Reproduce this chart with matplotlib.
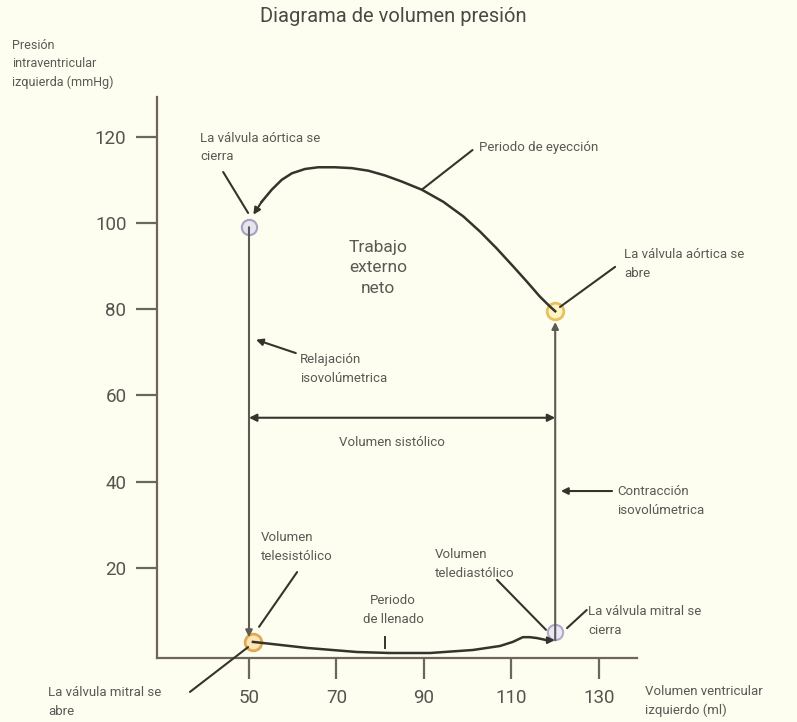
import matplotlib.pyplot as plt

plt.rcParams['font.family'] = ['Roboto', 'DejaVu Sans']

# datos
x_ticks = [50, 70, 90, 110, 130]
y_ticks = [20, 40, 60, 80, 100, 120]

# periodo de eyección (de la apertura al cierre de la válvula aórtica)
eyec_vol = [120, 118.8, 116.5, 113.5, 110.4, 106.6, 102.8, 99.0, 94.4, 89.5, 84.9, 81.1,
            77.3, 73.5, 69.7, 65.8, 62.8, 59.8, 57.5, 55.2, 52.9, 51.0]
eyec_pres = [79.5, 80.6, 82.9, 86.4, 89.9, 94.1, 98.0, 101.5, 104.9, 107.7, 109.6, 111.0,
             112.1, 112.7, 112.9, 112.9, 112.5, 111.5, 110.0, 107.7, 104.9, 101.9]

# periodo de llenado
llen_vol = [50.9, 53.2, 63.3, 74.7, 82.2, 91.4, 101.2, 107.4, 110.3, 112.6, 114.2, 115.8, 118.1, 119.3]
llen_pres = [2.8, 2.55, 1.4, 0.46, 0.23, 0.23, 0.93, 1.86, 2.8, 3.9, 3.9, 3.7, 3.2, 3.2]

vol_sistole = 50      # volumen telesistólico
vol_diastole = 120    # volumen telediastólico
pres_relaj = (99, 3.9)
pres_contr = (3.2, 77)
pres_vs = 54.8

# válvulas: (vol, pres)
ao_cierra = (50, 99)
ao_abre = (120, 79.5)
mi_abre = (51, 2.8)
mi_cierra = (120, 5)

BG = '#fdfdf0'
TXT = '#5a5a55'
LN = '#34342c'
VL = '#5c5a52'

W, H = 797, 722
fx = lambda x: x / W
fy = lambda y: 1 - y / H

fig = plt.figure(figsize=(W / 100, H / 100), dpi=100, facecolor=BG)
ax = fig.add_axes([157 / W, 1 - 658 / H, 480 / W, 561 / H])
ax.set_facecolor(BG)
ax.set_xlim(28.97, 138.7)
ax.set_ylim(-0.93, 129.2)
for s in ['top', 'right']:
    ax.spines[s].set_visible(False)
for s in ['left', 'bottom']:
    ax.spines[s].set_color('#6d665c')
    ax.spines[s].set_linewidth(1.6)
ax.set_xticks(x_ticks)
ax.set_yticks(y_ticks)
ax.tick_params(axis='both', direction='out', length=15, width=1.6, color='#6d665c',
               labelsize=13.5, labelcolor='#55554f')
ax.tick_params(axis='x', pad=7)
ax.tick_params(axis='y', pad=7)

# círculos de las válvulas
ax.plot(*ao_cierra, 'o', ms=11, mfc='#e6e4ef', mec='#a4a2bd', mew=1.5, zorder=2)
ax.plot(*mi_cierra, 'o', ms=11, mfc='#e9e8f3', mec='#aeaac8', mew=1.5, zorder=2)
ax.plot(*ao_abre, 'o', ms=12, mfc='#fff4c2', mec='#e6c25e', mew=2, zorder=2)
ax.plot(*mi_abre, 'o', ms=12, mfc='#fde6b2', mec='#e0aa55', mew=2, zorder=2)

arr = dict(arrowstyle='-|>', color=LN, lw=1.5, mutation_scale=10, shrinkA=0, shrinkB=0)

# eyección
ax.plot(eyec_vol[:-1], eyec_pres[:-1], color=LN, lw=1.8, zorder=3)
ax.annotate('', xy=(eyec_vol[-1], eyec_pres[-1]), xytext=(eyec_vol[-2], eyec_pres[-2]),
            arrowprops=arr, zorder=4)
# llenado
ax.plot(llen_vol[:-1], llen_pres[:-1], color=LN, lw=1.8, zorder=3)
ax.annotate('', xy=(llen_vol[-1] + 0.6, llen_pres[-1]), xytext=(llen_vol[-2], llen_pres[-2]),
            arrowprops=arr, zorder=4)
# relajación y contracción isovolumétrica
ax.annotate('', xy=(vol_sistole, pres_relaj[1]), xytext=(vol_sistole, pres_relaj[0]),
            arrowprops=dict(arr, color=VL), zorder=3)
ax.annotate('', xy=(vol_diastole, pres_contr[1]), xytext=(vol_diastole, pres_contr[0]),
            arrowprops=dict(arr, color=VL), zorder=3)
# volumen sistólico
ax.annotate('', xy=(vol_diastole, pres_vs), xytext=(vol_sistole, pres_vs),
            arrowprops=dict(arrowstyle='<|-|>', color=LN, lw=1.5, mutation_scale=11,
                            shrinkA=0, shrinkB=0))
# marca del periodo de llenado
ax.plot([81.1, 81.1], [1.4, 3.9], color=LN, lw=1.4)

seg = dict(arrowstyle='-', color=LN, lw=1.5, shrinkA=0, shrinkB=0)
ax.annotate('', xy=(49.8, 102.3), xytext=(44.1, 111.8), arrowprops=seg)
ax.annotate('', xy=(89.5, 107.7), xytext=(101.1, 116.9), arrowprops=seg)
ax.annotate('', xy=(121.1, 80.5), xytext=(133.7, 89.8), arrowprops=seg)
ax.annotate('', xy=(51.6, 72.9), xytext=(60.7, 69.8), arrowprops=arr)
ax.annotate('', xy=(121.3, 37.8), xytext=(133, 37.8), arrowprops=arr)
ax.annotate('', xy=(52.3, 6.3), xytext=(61, 19), arrowprops=seg)
ax.annotate('', xy=(117.9, 5.6), xytext=(106.7, 17.2), arrowprops=seg)
ax.annotate('', xy=(122.7, 6), xytext=(127.2, 10.2), arrowprops=seg)
ax.annotate('', xy=(49.8, 1.6), xytext=(36.5, -8.8), arrowprops=seg, annotation_clip=False)

# textos
kw = dict(fontsize=9.5, color=TXT, linespacing=1.55, va='center')
fig.text(fx(393), fy(17), 'Diagrama de volumen presión', fontsize=14.5, color='#4a4a45',
         ha='center', va='center')
fig.text(fx(12), fy(64), 'Presión\nintraventricular\nizquierda (mmHg)', fontsize=9,
         color=TXT, linespacing=1.55, va='center')
fig.text(fx(645), fy(701), 'Volumen ventricular\nizquierdo (ml)', **kw)
fig.text(fx(200), fy(147.5), 'La válvula aórtica se\ncierra', **kw)
fig.text(fx(479), fy(148), 'Periodo de eyección', **kw)
fig.text(fx(378), fy(268), 'Trabajo\nexterno\nneto', fontsize=12.5, color=TXT,
         linespacing=1.45, ha='center', va='center')
fig.text(fx(624), fy(264), 'La válvula aórtica se\nabre', **kw)
fig.text(fx(300), fy(369), 'Relajación\nisovolúmetrica', **kw)
fig.text(fx(392), fy(442), 'Volumen sistólico', ha='center', **kw)
fig.text(fx(617), fy(501), 'Contracción\nisovolúmetrica', **kw)
fig.text(fx(261), fy(547), 'Volumen\ntelesistólico', **kw)
fig.text(fx(393), fy(610), 'Periodo\nde llenado', ha='center', **kw)
fig.text(fx(435), fy(564), 'Volumen\ntelediastólico', **kw)
fig.text(fx(588), fy(621), 'La válvula mitral se\ncierra', **kw)
fig.text(fx(48), fy(702), 'La válvula mitral se\nabre', **kw)

fig.savefig('out.png', dpi=100, facecolor=BG)
